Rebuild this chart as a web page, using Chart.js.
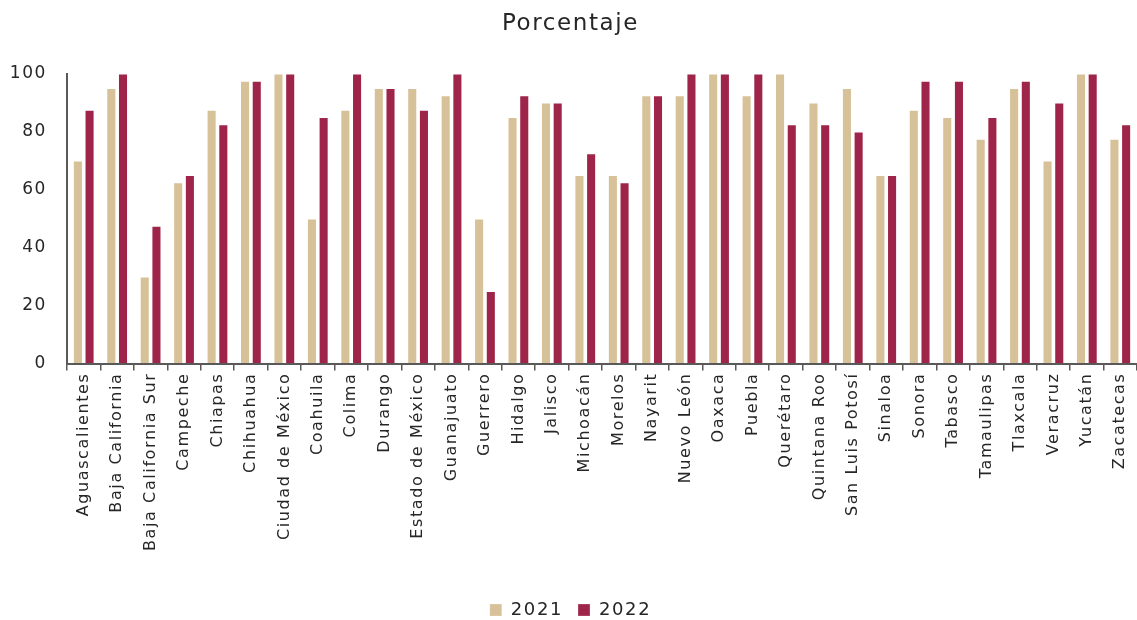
<!DOCTYPE html>
<html>
<head>
<meta charset="utf-8">
<script src="https://cdn.jsdelivr.net/npm/chart.js@4/dist/chart.umd.min.js"></script>
<style>
  html, body { margin: 0; padding: 0; background: #fff; }
  #wrap { width: 1137px; height: 620px; position: relative; }
</style>
</head>
<body>
<div id="wrap"><canvas id="chart"></canvas></div>
<script>
const BEIGE = '#D6C198';
const WINE = '#9E2449';
const AXIS = '#595959';
const TEXT = '#262626';
const FONT = '"DejaVu Sans", sans-serif';
const SPACING = '1.6px';

const states = [
  'Aguascalientes', 'Baja California', 'Baja California Sur', 'Campeche', 'Chiapas',
  'Chihuahua', 'Ciudad de México', 'Coahuila', 'Colima', 'Durango', 'Estado de México',
  'Guanajuato', 'Guerrero', 'Hidalgo', 'Jalisco', 'Michoacán', 'Morelos', 'Nayarit',
  'Nuevo León', 'Oaxaca', 'Puebla', 'Querétaro', 'Quintana Roo', 'San Luis Potosí',
  'Sinaloa', 'Sonora', 'Tabasco', 'Tamaulipas', 'Tlaxcala', 'Veracruz', 'Yucatán', 'Zacatecas'
];

const values2021 = [
  70, 95, 30, 62.5, 87.5, 97.5, 100, 50, 87.5, 95, 95,
  92.5, 50, 85, 90, 65, 65, 92.5, 92.5, 100, 92.5, 100,
  90, 95, 65, 87.5, 85, 77.5, 95, 70, 100, 77.5
];

const values2022 = [
  87.5, 100, 47.5, 65, 82.5, 97.5, 100, 85, 100, 95, 87.5,
  100, 25, 92.5, 90, 72.5, 62.5, 92.5, 100, 100, 100, 82.5,
  82.5, 80, 65, 97.5, 97.5, 85, 97.5, 90, 100, 82.5
];

const yTicks = [0, 20, 40, 60, 80, 100];

// wider letter spacing so the text takes the room of the original wide font
const spacingPlugin = {
  id: 'spacing',
  beforeUpdate: chart => { chart.ctx.letterSpacing = SPACING; },
  beforeLayout: chart => { chart.ctx.letterSpacing = SPACING; },
  afterLayout: chart => {
    // push the legend a little lower, closer to the bottom edge
    chart.legend.top += 9;
    chart.legend.bottom += 9;
  },
  beforeDraw: chart => { chart.ctx.letterSpacing = SPACING; },
};

function makeDataset(label, data, color) {
  return {
    label,
    data,
    backgroundColor: color,
    borderColor: 'rgba(255,255,255,0.35)',
    borderWidth: { top: 1, left: 1, right: 1, bottom: 0 },
    categoryPercentage: 0.7,
    barPercentage: 0.86,
  };
}

new Chart(document.getElementById('chart'), {
  type: 'bar',
  plugins: [spacingPlugin],
  data: {
    labels: states,
    datasets: [
      makeDataset('2021', values2021, BEIGE),
      makeDataset('2022', values2022, WINE),
    ],
  },
  options: {
    responsive: true,
    maintainAspectRatio: false,
    animation: false,
    layout: { padding: { left: 4, right: 0, top: 10, bottom: 0 } },
    plugins: {
      title: {
        display: true,
        text: 'Porcentaje',
        color: TEXT,
        font: { family: FONT, size: 23, weight: 'normal' },
        padding: { top: 0, bottom: 36 },
      },
      legend: {
        position: 'bottom',
        labels: {
          color: TEXT,
          font: { family: FONT, size: 18 },
          boxWidth: 12,
          boxHeight: 12,
          padding: 15,
        },
      },
      tooltip: { enabled: false },
    },
    scales: {
      x: {
        afterFit: scale => {
          scale.height += 24;
          scale.paddingLeft = 0;
          scale.paddingRight = 0;
        },
        grid: {
          display: true,
          offset: true,
          drawOnChartArea: false,
          drawTicks: true,
          tickLength: 7,
          color: AXIS,
          lineWidth: 1.5,
        },
        border: { display: true, color: AXIS, width: 2 },
        ticks: {
          color: TEXT,
          font: { family: FONT, size: 16 },
          minRotation: 90,
          maxRotation: 90,
          autoSkip: false,
          padding: 2,
        },
      },
      y: {
        min: 0,
        max: 100,
        afterBuildTicks: axis => { axis.ticks = yTicks.map(v => ({ value: v })); },
        afterFit: scale => { scale.width = 63; },
        grid: {
          display: true,
          drawOnChartArea: false,
          drawTicks: true,
          tickLength: 0,
          color: AXIS,
        },
        border: { display: true, color: AXIS, width: 2 },
        ticks: {
          color: TEXT,
          font: { family: FONT, size: 17 },
          padding: 20,
        },
      },
    },
  },
});
</script>
</body>
</html>
